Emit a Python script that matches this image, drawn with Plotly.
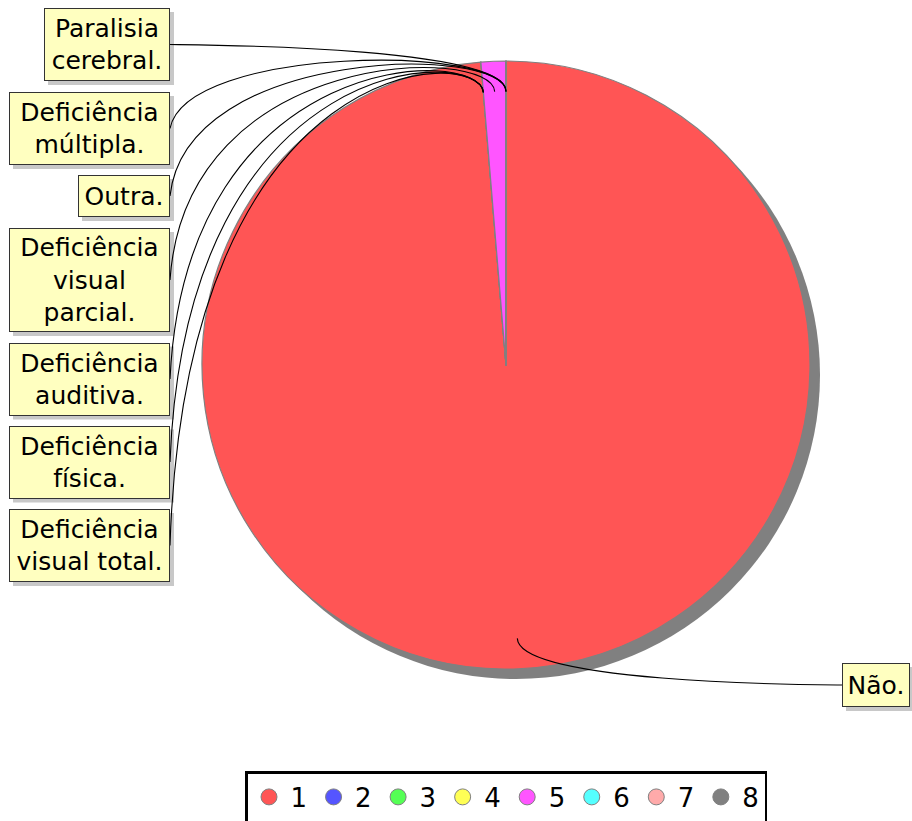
import math
import plotly.graph_objects as go

# ---------------- data ----------------
legend_keys = ["1", "2", "3", "4", "5", "6", "7", "8"]
categories = [
    "Não.",
    "Deficiência auditiva.",
    "Deficiência física.",
    "Deficiência visual total.",
    "Deficiência visual parcial.",
    "Paralisia cerebral.",
    "Deficiência múltipla.",
    "Outra.",
]
values = [75, 0, 0, 0, 1, 0, 0, 0]

# ---------------- styles / layout ----------------
colors = ["#FF5555", "#5555FF", "#55FF55", "#FFFF55",
          "#FF55FF", "#55FFFF", "#FFAAAA", "#808080"]
label_texts = [
    "Não.",
    "Deficiência<br>auditiva.",
    "Deficiência<br>física.",
    "Deficiência<br>visual total.",
    "Deficiência<br>visual<br>parcial.",
    "Paralisia<br>cerebral.",
    "Deficiência<br>múltipla.",
    "Outra.",
]
label_side = ["right", "left", "left", "left", "left", "left", "left", "left"]
label_cy = [685, 379, 462, 545.5, 280, 44.5, 128.5, 196]   # box centre (px)
label_w = [68, 161, 161, 161, 161, 126, 161, 92]
label_h = [44, 73, 73, 73, 104, 73, 73, 42]

W, H = 912, 821
CX, CY, R = 506, 365, 304          # pie centre / radius in px
SHADOW = 10
BOX_SHADOW = 4
LINK_PCT = 0.9
LINK_AREA = 320
GAP = 16
FONT = "DejaVu Sans"

fig = go.Figure()

def dom_x(c):
    return [(c - R) / W, (c + R) / W]

def dom_y(c):
    return [1 - (c + R) / H, 1 - (c - R) / H]

# shadow pie
fig.add_trace(go.Pie(
    values=[sum(values)], labels=["shadow"], sort=False,
    marker=dict(colors=["#808080"], line=dict(width=0)),
    textinfo="none", hoverinfo="skip", showlegend=False,
    domain=dict(x=dom_x(CX + SHADOW), y=dom_y(CY + SHADOW)),
))
# main pie
fig.add_trace(go.Pie(
    values=values, labels=legend_keys, sort=False, direction="clockwise",
    rotation=0,
    marker=dict(colors=colors, line=dict(color="#808080", width=1.2)),
    textinfo="none", hoverinfo="skip", showlegend=False,
    domain=dict(x=dom_x(CX), y=dom_y(CY)),
))

# legend entries (circles)
for k, c in zip(legend_keys, colors):
    fig.add_trace(go.Scatter(
        x=[None], y=[None], mode="markers", name=k,
        marker=dict(symbol="circle", size=20, color=c,
                    line=dict(color="#808080", width=1)),
        hoverinfo="skip",
    ))

# leader lines + label boxes
total = sum(values)
cum = 0.0
shapes = []
annotations = []
for i, v in enumerate(values):
    frac_mid = (cum + v / 2.0) / total
    cum += v
    theta = math.radians(90 - 360 * frac_mid)
    link_x = CX + math.cos(theta) * R * LINK_PCT
    link_y = CY - math.sin(theta) * R * LINK_PCT
    elbow_x = CX + math.cos(theta) * LINK_AREA
    elbow_y = CY - math.sin(theta) * LINK_AREA
    if label_side[i] == "left":
        anchor_x = CX - LINK_AREA
        target_x = anchor_x - GAP
        xanchor = "right"
        bx0, bx1 = target_x - label_w[i], target_x
    else:
        anchor_x = CX + LINK_AREA
        target_x = anchor_x + GAP
        xanchor = "left"
        bx0, bx1 = target_x, target_x + label_w[i]
    target_y = label_cy[i]
    by0, by1 = target_y - label_h[i] / 2, target_y + label_h[i] / 2
    # box shadow
    shapes.append(dict(
        type="rect", xref="x", yref="y", layer="below",
        x0=bx0 + BOX_SHADOW, x1=bx1 + BOX_SHADOW,
        y0=by0 + BOX_SHADOW, y1=by1 + BOX_SHADOW,
        fillcolor="#C8C8C8", line=dict(width=0),
    ))
    # leader line
    shapes.append(dict(
        type="path", xref="x", yref="y", layer="above",
        path=(f"M {target_x},{target_y} C {anchor_x},{elbow_y} "
              f"{elbow_x},{elbow_y} {link_x},{link_y}"),
        line=dict(color="black", width=1.1),
    ))
    annotations.append(dict(
        xref="x", yref="y", x=target_x, y=target_y,
        xanchor=xanchor, yanchor="middle", showarrow=False,
        text=label_texts[i], align="center",
        width=label_w[i] - 2, height=label_h[i] - 2,
        borderwidth=1, borderpad=0,
        bgcolor="#FFFFC0", bordercolor="#333333",
        font=dict(family=FONT, size=25, color="black"),
    ))

fig.update_layout(
    width=W, height=H,
    margin=dict(l=0, r=0, t=0, b=0, pad=0, autoexpand=False),
    paper_bgcolor="white", plot_bgcolor="white",
    xaxis=dict(range=[0, W], visible=False, fixedrange=True, domain=[0, 1]),
    yaxis=dict(range=[H, 0], visible=False, fixedrange=True, domain=[0, 1]),
    shapes=shapes, annotations=annotations,
    showlegend=True,
    legend=dict(
        orientation="h", x=245 / W, xanchor="left", y=1 - 771 / H, yanchor="top",
        bordercolor="black", borderwidth=2.5, bgcolor="white",
        font=dict(family=FONT, size=26, color="black"),
        itemwidth=33, traceorder="normal",
    ),
)

fig.write_html("out.html", config={"displayModeBar": False},
               post_script="document.body.style.margin='0';")
